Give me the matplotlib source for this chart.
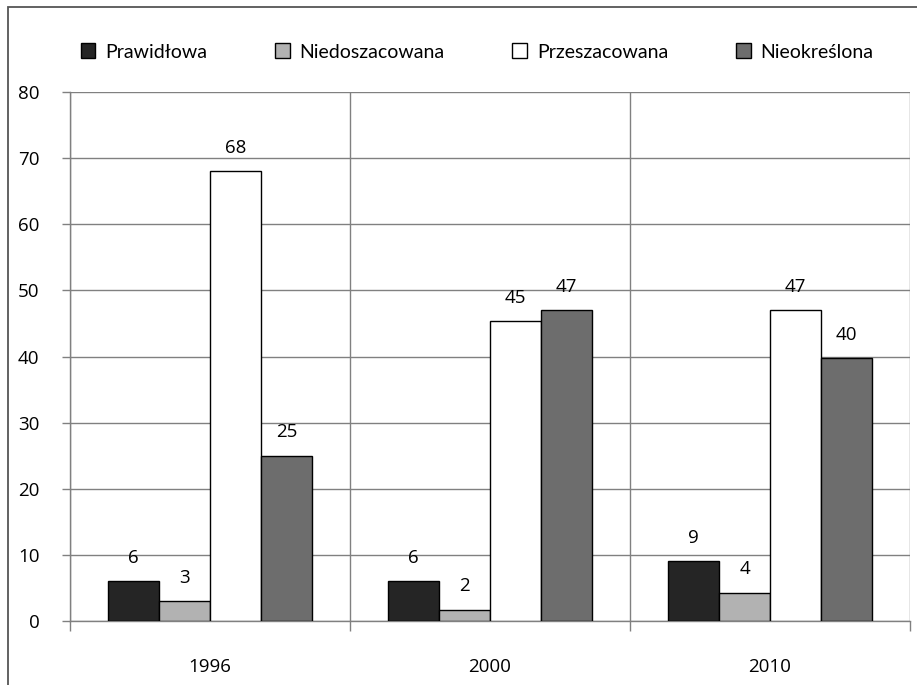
import numpy as np
import matplotlib
matplotlib.use("Agg")
import matplotlib.pyplot as plt
from matplotlib.patches import Rectangle

years = ["1996", "2000", "2010"]
series = ["Prawidłowa", "Niedoszacowana", "Przeszacowana", "Nieokreślona"]
values = [
    [6, 6, 9],          # Prawidłowa
    [3, 1.7, 4.3],      # Niedoszacowana
    [68, 45.3, 47],     # Przeszacowana
    [25, 47, 39.7],     # Nieokreślona
]
colors = ["#252525", "#b2b2b2", "#ffffff", "#6d6d6d"]

num_font = "Open Sans"
grid_col = "#808080"

fig = plt.figure(figsize=(9.17, 6.85), dpi=100)
ax = fig.add_axes([70 / 917, 1 - 621 / 685, 840 / 917, 529 / 685])

x = np.arange(len(years))
w = 1 / 5.5
handles = []
for i, (name, vals, col) in enumerate(zip(series, values, colors)):
    bars = ax.bar(x + (i - 1.5) * w, vals, width=w, color=col,
                  edgecolor="black", linewidth=1, label=name, zorder=3)
    handles.append(bars)
    for b, v in zip(bars, vals):
        ax.annotate(f"{v:.0f}", (b.get_x() + b.get_width() / 2, b.get_height()),
                    xytext=(0, 17), textcoords="offset points",
                    ha="center", va="center", fontsize=13.5, family=num_font)

ax.set_xlim(-0.5, len(years) - 0.5)
ax.set_ylim(0, 80)
ax.set_yticks(np.arange(0, 81, 10))
ax.yaxis.grid(True, color=grid_col, linewidth=1, zorder=0)
ax.tick_params(axis="y", length=6, width=1, color=grid_col, pad=16,
               labelsize=13.5)
for lab in ax.get_yticklabels():
    lab.set_family(num_font)

# category boundaries as major ticks/grid, year labels on minor ticks
ax.set_xticks(np.arange(-0.5, len(years), 1.0))
ax.set_xticklabels([])
ax.set_xticks(x, minor=True)
ax.set_xticklabels(years, minor=True, fontsize=13.5, family=num_font)
ax.xaxis.grid(True, which="major", color=grid_col, linewidth=1, zorder=0)
ax.tick_params(axis="x", which="major", length=7, width=1, color=grid_col)
ax.tick_params(axis="x", which="minor", length=0, pad=27)

for s in ["top", "right"]:
    ax.spines[s].set_visible(False)
for s in ["left", "bottom"]:
    ax.spines[s].set_color(grid_col)
    ax.spines[s].set_linewidth(1)

fig.legend(handles=handles, labels=series, ncol=4, loc="center",
           bbox_to_anchor=(477 / 917, 1 - 52 / 685), frameon=False,
           prop={"family": "Lato", "size": 14}, handlelength=0.75,
           handleheight=0.8, handletextpad=0.5, columnspacing=3.5)

# outer chart frame
fig.patches.append(Rectangle((8 / 917, -0.1), 2, 1.1 - 7 / 685,
                             transform=fig.transFigure, fill=False,
                             edgecolor="#555555", linewidth=1.3))

fig.savefig("out.png", dpi=100)
